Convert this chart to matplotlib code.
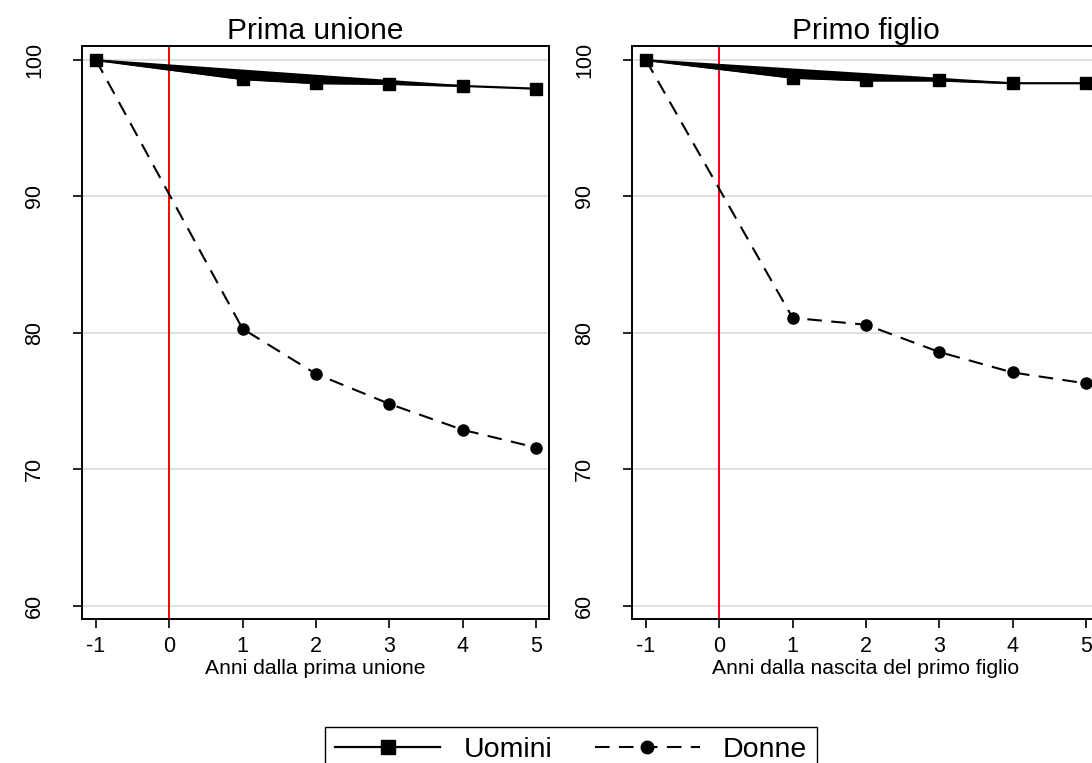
import matplotlib
matplotlib.use("Agg")
import matplotlib.pyplot as plt
from matplotlib.lines import Line2D

plt.rcParams["font.family"] = ["Liberation Sans", "DejaVu Sans"]

# Data
anni = [-1, 1, 2, 3, 4, 5]
unione_uomini = [100, 98.6, 98.3, 98.25, 98.1, 97.9]
unione_donne = [100, 80.3, 77.0, 74.8, 72.9, 71.6]
figlio_uomini = [100, 98.7, 98.5, 98.5, 98.3, 98.3]
figlio_donne = [100, 81.1, 80.6, 78.6, 77.1, 76.3]

titoli = ["Prima unione", "Primo figlio"]
etichette_x = ["Anni dalla prima unione", "Anni dalla nascita del primo figlio"]
y_ticks = [60, 70, 80, 90, 100]
x_ticks = [-1, 0, 1, 2, 3, 4, 5]

DASH = (0, (7, 4.5))


def draw_panel(ax, uomini, donne, titolo, xlabel):
    for y in y_ticks:
        ax.axhline(y, color="#dcdcdc", linewidth=1.3, zorder=0)
    ax.axvline(0, color="red", linewidth=1.4, zorder=1)

    # wedge drawn by the original software between first point and the later ones
    ax.fill(anni[:5], uomini[:5], color="black", linewidth=1.2, zorder=2)
    ax.plot(anni, uomini, color="black", linewidth=1.6, marker="s",
            markersize=8.5, zorder=3)
    ax.plot(anni, donne, color="black", linewidth=1.5, linestyle=DASH,
            marker="o", markersize=8, zorder=3)

    ax.set_xlim(-1.19, 5.18)
    ax.set_ylim(59.03, 101.05)
    ax.set_xticks(x_ticks)
    ax.set_xticklabels([str(t) for t in x_ticks])
    ax.set_yticks(y_ticks)
    ax.set_yticklabels([str(t) for t in y_ticks], rotation=90, va="center")
    ax.tick_params(axis="x", length=6.5, width=1.2, pad=6, labelsize=15.5)
    ax.tick_params(axis="y", length=6.5, width=1.2, pad=20, labelsize=15.5)
    for sp in ax.spines.values():
        sp.set_linewidth(1.4)
    ax.set_title(titolo, fontsize=21.5, pad=5)
    ax.set_xlabel(xlabel, fontsize=15.2, labelpad=1)


def main():
    fig = plt.figure(figsize=(10.92, 7.63), dpi=100)
    ax1 = fig.add_axes([0.0751, 0.1887, 0.4277, 0.7514])
    ax2 = fig.add_axes([0.5788, 0.1887, 0.4277, 0.7514])

    draw_panel(ax1, unione_uomini, unione_donne, titoli[0], etichette_x[0])
    draw_panel(ax2, figlio_uomini, figlio_donne, titoli[1], etichette_x[1])

    handles = [
        Line2D([], [], color="black", linewidth=1.6, marker="s", markersize=9.5),
        Line2D([], [], color="black", linewidth=1.5, linestyle=DASH,
               marker="o", markersize=9),
    ]
    fig.legend(handles, ["Uomini", "Donne"], loc="upper center",
               bbox_to_anchor=(0.523, 0.0655), ncol=2, fontsize=20.5,
               frameon=True, fancybox=False, edgecolor="black",
               handlelength=3.7, columnspacing=1.5, handletextpad=0.8,
               borderpad=0.35, framealpha=1)

    fig.savefig("out.png", dpi=100)
    plt.close(fig)


if __name__ == "__main__":
    main()
